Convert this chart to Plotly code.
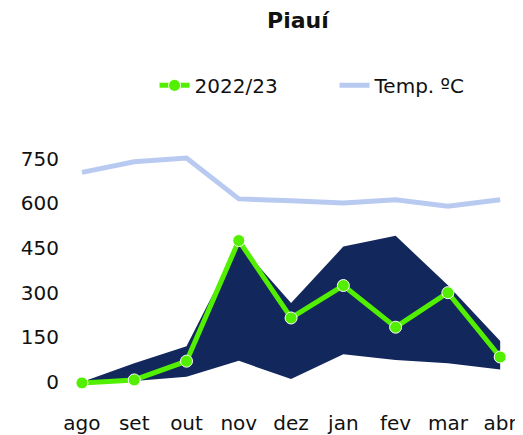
import plotly.graph_objects as go

months = ["ago", "set", "out", "nov", "dez", "jan", "fev", "mar", "abr"]
safra_2022_23 = [-3, 7, 70, 475, 215, 324, 184, 300, 84]
temp_c = [704, 740, 752, 615, 609, 601, 612, 590, 612]
faixa_min = [0, 3, 18, 71, 10, 93, 74, 63, 42]
faixa_max = [0, 63, 120, 465, 265, 455, 491, 325, 138]

FONT = "DejaVu Sans"
NAVY = "#12275c"
GREEN = "#52f000"

fig = go.Figure()

# banda min/max
fig.add_trace(go.Scatter(x=months, y=faixa_min, mode="lines", line=dict(width=0, color=NAVY),
                         showlegend=False, hoverinfo="skip"))
fig.add_trace(go.Scatter(x=months, y=faixa_max, mode="lines", line=dict(width=0, color=NAVY),
                         fill="tonexty", fillcolor=NAVY, showlegend=False, hoverinfo="skip"))

fig.add_trace(go.Scatter(x=months, y=safra_2022_23, name="2022/23", mode="lines+markers",
                         line=dict(color=GREEN, width=5),
                         marker=dict(size=12, color=GREEN, line=dict(color="white", width=1))))
fig.add_trace(go.Scatter(x=months, y=temp_c, name="Temp. ºC", mode="lines",
                         line=dict(color="#b9caf1", width=5)))

# the page adds an 8px body margin, so the figure is 8px smaller and shifted
fig.update_layout(
    width=515, height=427,
    margin=dict(l=52, r=4, t=122, b=26, autoexpand=False),
    plot_bgcolor="white", paper_bgcolor="white",
    font=dict(family=FONT, size=20, color="#111111"),
    title=dict(text="<b>Piauí</b>", x=0.563, xanchor="center", y=0.972, yanchor="middle",
               font=dict(size=22, family=FONT, color="#111111")),
    legend=dict(orientation="h", x=0.206, xanchor="left", y=1.16, yanchor="middle",
                font=dict(size=20), traceorder="normal", entrywidth=135),
    showlegend=True,
)
fig.update_xaxes(range=[-0.42, 8.36], showgrid=False, zeroline=False, showline=False,
                 ticks="", tickfont=dict(size=20), automargin=False)
fig.update_yaxes(range=[-90.7, 846.4], tickvals=[0, 150, 300, 450, 600, 750], showgrid=False,
                 zeroline=False, showline=False, ticks="", tickfont=dict(size=20), automargin=False)

fig.write_html("out.html")
